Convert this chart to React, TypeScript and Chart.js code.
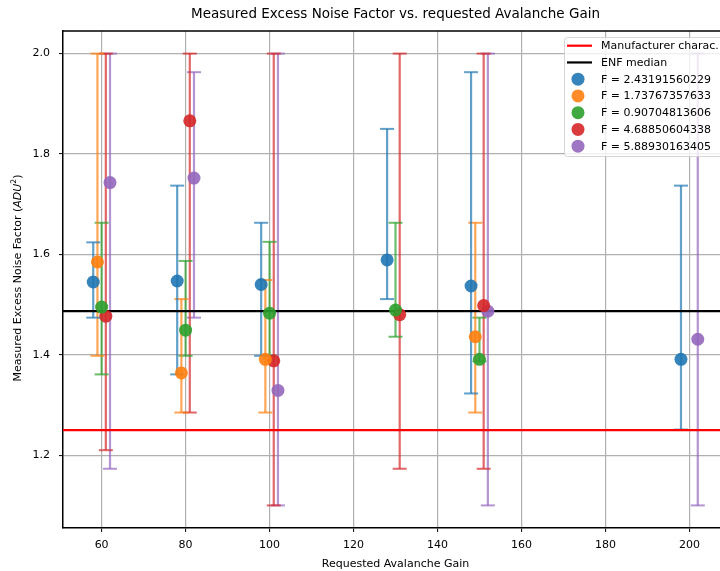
import React, { useEffect, useRef } from "react";
import { Chart, registerables } from "chart.js";

Chart.register(...registerables);

const FONT = "'DejaVu Sans', 'Liberation Sans', sans-serif";

// ---- Data -------------------------------------------------------------
const SERIES_LABELS = [
  "F = 2.43191560229",
  "F = 1.73767357633",
  "F = 0.90704813606",
  "F = 4.68850604338",
  "F = 5.88930163405",
];
const SERIES_COLORS = ["#1f77b4", "#ff7f0e", "#2ca02c", "#d62728", "#9467bd"];

// F = 2.43191560229 (blue)
const BLUE_X = [58, 78, 98, 128, 148, 198];
const BLUE_Y = [1.545, 1.547, 1.54, 1.589, 1.537, 1.391];
const BLUE_LO = [1.474, 1.361, 1.398, 1.511, 1.323, 1.251];
const BLUE_HI = [1.624, 1.737, 1.663, 1.85, 1.963, 1.737];

// F = 1.73767357633 (orange)
const ORANGE_X = [59, 79, 99, 149];
const ORANGE_Y = [1.585, 1.364, 1.391, 1.436];
const ORANGE_LO = [1.398, 1.285, 1.285, 1.285];
const ORANGE_HI = [2.0, 1.511, 1.549, 1.663];

// F = 0.90704813606 (green)
const GREEN_X = [60, 80, 100, 130, 150];
const GREEN_Y = [1.495, 1.449, 1.483, 1.489, 1.391];
const GREEN_LO = [1.361, 1.398, 1.398, 1.436, 1.387];
const GREEN_HI = [1.663, 1.587, 1.625, 1.663, 1.474];

// F = 4.68850604338 (red)
const RED_X = [61, 81, 101, 131, 151];
const RED_Y = [1.477, 1.866, 1.388, 1.48, 1.498];
const RED_LO = [1.21, 1.285, 1.1, 1.173, 1.173];
const RED_HI = [2.0, 2.0, 2.0, 2.0, 2.0];

// F = 5.88930163405 (purple)
const PURPLE_X = [62, 82, 102, 152, 202];
const PURPLE_Y = [1.743, 1.752, 1.329, 1.487, 1.431];
const PURPLE_LO = [1.173, 1.474, 1.1, 1.1, 1.1];
const PURPLE_HI = [2.0, 1.963, 2.0, 2.0, 2.0];

const MANUFACTURER_ENF = 1.25;
const ENF_MEDIAN = 1.487;

const X_MIN = 50.8;
const X_MAX = 209.2;
const Y_MIN = 1.055;
const Y_MAX = 2.045;
const X_TICKS = [60, 80, 100, 120, 140, 160, 180, 200];
const Y_TICKS = [1.2, 1.4, 1.6, 1.8, 2.0];

const TITLE = "Measured Excess Noise Factor vs. requested Avalanche Gain";
const X_LABEL = "Requested Avalanche Gain";

// ---- Helpers ----------------------------------------------------------
function withAlpha(hex: string, a: number) {
  const r = parseInt(hex.slice(1, 3), 16);
  const g = parseInt(hex.slice(3, 5), 16);
  const b = parseInt(hex.slice(5, 7), 16);
  return `rgba(${r},${g},${b},${a})`;
}

const SERIES = [
  { x: BLUE_X, y: BLUE_Y, lo: BLUE_LO, hi: BLUE_HI },
  { x: ORANGE_X, y: ORANGE_Y, lo: ORANGE_LO, hi: ORANGE_HI },
  { x: GREEN_X, y: GREEN_Y, lo: GREEN_LO, hi: GREEN_HI },
  { x: RED_X, y: RED_Y, lo: RED_LO, hi: RED_HI },
  { x: PURPLE_X, y: PURPLE_Y, lo: PURPLE_LO, hi: PURPLE_HI },
];

function buildDatasets() {
  const ds: any[] = [];
  ds.push({
    type: "line",
    label: "Manufacturer charac.",
    kind: "hline",
    data: [
      { x: X_MIN, y: MANUFACTURER_ENF },
      { x: X_MAX, y: MANUFACTURER_ENF },
    ],
    borderColor: "#ff0000",
    borderWidth: 2.2,
    pointRadius: 0,
    order: 1,
  });
  ds.push({
    type: "line",
    label: "ENF median",
    kind: "hline",
    data: [
      { x: X_MIN, y: ENF_MEDIAN },
      { x: X_MAX, y: ENF_MEDIAN },
    ],
    borderColor: "#000000",
    borderWidth: 2.2,
    pointRadius: 0,
    order: 1,
  });
  SERIES.forEach((s, si) => {
    ds.push({
      type: "scatter",
      label: SERIES_LABELS[si],
      kind: "point",
      data: s.x.map((xv, i) => ({ x: xv, y: s.y[i] })),
      backgroundColor: withAlpha(SERIES_COLORS[si], 0.9),
      borderWidth: 0,
      pointRadius: 6.5,
      pointHoverRadius: 6.5,
      order: 0,
    });
  });
  SERIES.forEach((s, si) => {
    s.x.forEach((xv, i) => {
      const c = withAlpha(SERIES_COLORS[si], 0.7);
      ds.push({
        type: "line",
        kind: "err",
        data: [
          { x: xv, y: s.lo[i] },
          { x: xv, y: s.hi[i] },
        ],
        borderColor: c,
        borderWidth: 2.2,
        pointStyle: "line",
        pointRadius: 7,
        pointHoverRadius: 7,
        pointBorderColor: c,
        pointBorderWidth: 2,
        pointBackgroundColor: c,
        order: 2,
      });
    });
  });
  return ds;
}

const decorPlugin = {
  id: "decor",
  afterDatasetsDraw(chart: any) {
    const { ctx, chartArea } = chart;
    ctx.save();
    ctx.strokeStyle = "#000";
    ctx.lineWidth = 1.5;
    ctx.beginPath();
    ctx.moveTo(chartArea.left, chartArea.top);
    ctx.lineTo(chartArea.right, chartArea.top);
    ctx.lineTo(chartArea.right, chartArea.bottom);
    ctx.stroke();
    ctx.restore();
  },
  afterDraw(chart: any) {
    const { ctx, chartArea } = chart;
    ctx.save();
    ctx.fillStyle = "#000";
    ctx.font = `13.5px ${FONT}`;
    ctx.textAlign = "center";
    ctx.textBaseline = "middle";
    ctx.fillText(TITLE, (chartArea.left + chartArea.right) / 2, 14.5);

    const parts = [
      { t: "Measured Excess Noise Factor (", f: `11px ${FONT}`, dy: 0 },
      { t: "ADU", f: `italic 11px ${FONT}`, dy: 0 },
      { t: "2", f: `7.7px ${FONT}`, dy: -4.5 },
      { t: ")", f: `11px ${FONT}`, dy: 0 },
    ];
    let total = 0;
    parts.forEach((p) => {
      ctx.font = p.f;
      total += ctx.measureText(p.t).width;
    });
    ctx.translate(18.5, 278);
    ctx.rotate(-Math.PI / 2);
    ctx.textAlign = "left";
    let px = -total / 2;
    parts.forEach((p) => {
      ctx.font = p.f;
      ctx.fillText(p.t, px, p.dy);
      px += ctx.measureText(p.t).width;
    });
    ctx.restore();

    ctx.save();
    const lx = 564.5,
      ly = 37.5,
      lw = 160,
      lh = 119;
    ctx.beginPath();
    if (ctx.roundRect) ctx.roundRect(lx, ly, lw, lh, 3);
    else ctx.rect(lx, ly, lw, lh);
    ctx.fillStyle = "rgba(255,255,255,0.8)";
    ctx.fill();
    ctx.strokeStyle = "rgba(204,204,204,0.8)";
    ctx.lineWidth = 1;
    ctx.stroke();
    const entries = chart.data.datasets.filter(
      (d: any) => d.kind === "hline" || d.kind === "point"
    );
    ctx.font = `11px ${FONT}`;
    ctx.textAlign = "left";
    ctx.textBaseline = "middle";
    entries.forEach((d: any, i: number) => {
      const cy = 45.7 + i * 16.75;
      if (d.kind === "hline") {
        ctx.strokeStyle = d.borderColor;
        ctx.lineWidth = 2.2;
        ctx.beginPath();
        ctx.moveTo(567, cy);
        ctx.lineTo(592, cy);
        ctx.stroke();
      } else {
        ctx.fillStyle = d.backgroundColor;
        ctx.beginPath();
        ctx.arc(578, cy, 6.5, 0, Math.PI * 2);
        ctx.fill();
      }
      ctx.fillStyle = "#000";
      ctx.fillText(d.label, 601, cy + 0.5);
    });
    ctx.restore();
  },
};

export default function App() {
  const ref = useRef<HTMLCanvasElement | null>(null);
  useEffect(() => {
    if (!ref.current) return;
    Chart.defaults.font.family = FONT;
    const chart = new Chart(ref.current, {
      type: "scatter",
      data: { datasets: buildDatasets() },
      plugins: [decorPlugin],
      options: {
        responsive: false,
        animation: false,
        events: [],
        layout: { padding: { left: 0, right: 32, top: 31, bottom: 0 } },
        plugins: {
          legend: { display: false },
          title: { display: false },
          tooltip: { enabled: false },
        },
        scales: {
          x: {
            type: "linear",
            min: X_MIN,
            max: X_MAX,
            afterBuildTicks: (s: any) => {
              s.ticks = X_TICKS.map((v) => ({ value: v }));
            },
            afterFit: (s: any) => {
              s.height = 43;
            },
            ticks: {
              color: "#000",
              font: { family: FONT, size: 11 },
              padding: 7,
              maxRotation: 0,
              autoSkip: false,
              callback: (v: any) => String(v),
            },
            grid: {
              color: "#b0b0b0",
              lineWidth: 1.2,
              tickLength: 4,
              tickColor: "#000",
              tickWidth: 1,
            },
            border: { display: true, color: "#000", width: 1.5 },
            title: {
              display: true,
              text: X_LABEL,
              color: "#000",
              font: { family: FONT, size: 11 },
              padding: { top: 0, bottom: 0 },
            },
          },
          y: {
            type: "linear",
            min: Y_MIN,
            max: Y_MAX,
            afterBuildTicks: (s: any) => {
              s.ticks = Y_TICKS.map((v) => ({ value: v }));
            },
            afterFit: (s: any) => {
              s.width = 63;
            },
            ticks: {
              color: "#000",
              font: { family: FONT, size: 11 },
              padding: 9,
              autoSkip: false,
              callback: (v: any) => Number(v).toFixed(1),
            },
            grid: {
              color: "#b0b0b0",
              lineWidth: 1.2,
              tickLength: 4,
              tickColor: "#000",
              tickWidth: 1,
            },
            border: { display: true, color: "#000", width: 1.5 },
          },
        },
      } as any,
    } as any);
    return () => chart.destroy();
  }, []);
  return (
    <div
      style={{
        position: "fixed",
        left: 0,
        top: 0,
        width: 720,
        height: 571,
        overflow: "hidden",
        background: "#fff",
      }}
    >
      <canvas
        ref={ref}
        width={760}
        height={571}
        style={{ display: "block", width: 760, height: 571 }}
      />
    </div>
  );
}
